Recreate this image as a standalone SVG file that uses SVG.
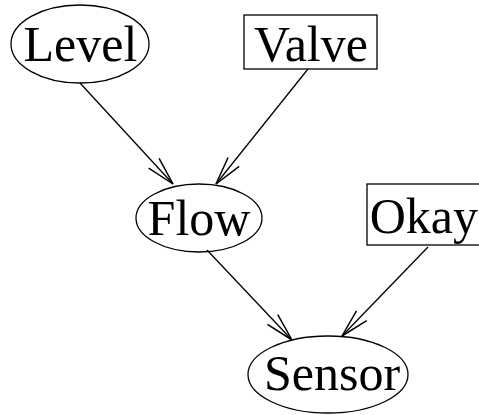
<svg xmlns="http://www.w3.org/2000/svg" width="479" height="415" viewBox="0 0 479 415">
  <style>
    .shape { fill: none; stroke: #000; stroke-width: 1.3; }
    .label { font-family: "Liberation Serif", "Times New Roman", serif; font-size: 50px; fill: #000; text-anchor: middle; }
    .edge { fill: none; stroke: #000; stroke-width: 1.3; marker-end: url(#arrow); }
  </style>
  <defs>
    <marker id="arrow" markerUnits="userSpaceOnUse" markerWidth="40" markerHeight="40" viewBox="-30 -15 35 30" refX="0" refY="0" orient="auto" overflow="visible">
      <path d="M -24.7,-6.2 L 0,0 L -24.7,6.2" fill="none" stroke="#000" stroke-width="1.3"/>
    </marker>
  </defs>
  <rect width="479" height="415" fill="#fff"/>

  <g id="edges">
    <line class="edge" x1="80" y1="83" x2="173" y2="184"/>
    <line class="edge" x1="308" y1="69" x2="216" y2="184"/>
    <line class="edge" x1="207" y1="250" x2="292" y2="340"/>
    <line class="edge" x1="428" y1="247" x2="342" y2="336"/>
  </g>

  <g id="level">
    <ellipse class="shape" cx="80" cy="44" rx="69" ry="39"/>
    <text class="label" x="80.5" y="61">Level</text>
  </g>
  <g id="valve">
    <rect class="shape" x="244" y="15" width="133" height="54"/>
    <text class="label" x="311" y="61">Valve</text>
  </g>
  <g id="flow">
    <ellipse class="shape" cx="199" cy="218" rx="63" ry="34"/>
    <text class="label" x="199" y="235">Flow</text>
  </g>
  <g id="okay">
    <rect class="shape" x="367" y="184" width="130" height="61"/>
    <text class="label" x="478" y="233" style="text-anchor:end">Okay</text>
  </g>
  <g id="sensor">
    <ellipse class="shape" cx="328" cy="374.5" rx="80" ry="38.5"/>
    <text class="label" x="332" y="390">Sensor</text>
  </g>
</svg>
